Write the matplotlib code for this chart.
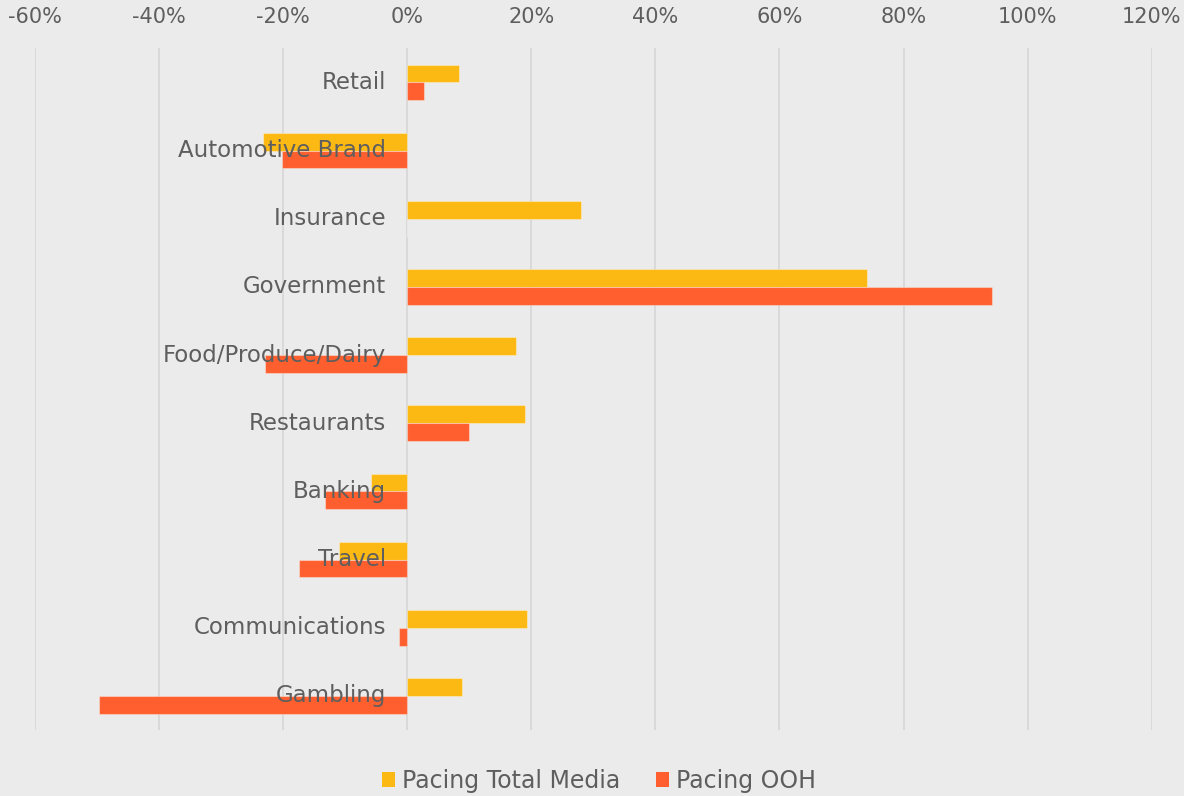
import matplotlib
matplotlib.use("Agg")
import matplotlib.pyplot as plt
from matplotlib.patches import Patch
import numpy as np

categories = ["Retail", "Automotive Brand", "Insurance", "Government",
              "Food/Produce/Dairy", "Restaurants", "Banking", "Travel",
              "Communications", "Gambling"]
total_media = [0.083, -0.232, 0.280, 0.741, 0.175, 0.190, -0.058, -0.109, 0.193, 0.088]
ooh = [0.027, -0.202, 0.0, 0.943, -0.229, 0.099, -0.132, -0.175, -0.013, -0.496]
series_names = ["Pacing Total Media", "Pacing OOH"]
x_ticks = [-0.6, -0.4, -0.2, 0.0, 0.2, 0.4, 0.6, 0.8, 1.0, 1.2]

BG = "#EAEBEA"
YELLOW = "#FDB913"
ORANGE = "#FF5F2E"
TEXT = "#5E5E5E"
GRID = "#D8D8D8"

plt.rcParams["font.family"] = ["DejaVu Sans"]

fig = plt.figure(figsize=(11.84, 7.96), dpi=100, facecolor=BG)
ax = fig.add_axes([34.8 / 1184, 1 - 730 / 796, (1151.7 - 34.8) / 1184, (730 - 48.3) / 796])
ax.set_facecolor(BG)

y = np.arange(len(categories))
h = 0.261
ax.barh(y - h / 2, total_media, height=h, color=YELLOW,
        edgecolor=(1, 1, 1, 0.35), linewidth=0.8, zorder=2)
ax.barh(y + h / 2, ooh, height=h, color=ORANGE,
        edgecolor=(1, 1, 1, 0.35), linewidth=0.8, zorder=2)

ax.set_xlim(-0.6, 1.2)
ax.set_ylim(len(categories) - 0.5, -0.5)

ax.xaxis.tick_top()
ax.set_xticks(x_ticks)
ax.set_xticklabels([f"{int(round(v * 100))}%" for v in x_ticks])
ax.tick_params(axis="x", length=0, pad=15, labelsize=15, labelcolor=TEXT)
ax.set_yticks([])
ax.grid(axis="x", color=GRID, linewidth=1.3)
ax.set_axisbelow(True)
for s in ax.spines.values():
    s.set_visible(False)

# category names sit just left of the zero line, on top of the bars
for yi, name in zip(y, categories):
    ax.text(-0.034, yi, name, ha="right", va="center", fontsize=16.5,
            color=TEXT, zorder=5)

handles = [Patch(facecolor=YELLOW, edgecolor="none"),
           Patch(facecolor=ORANGE, edgecolor="none")]
fig.legend(handles, series_names, loc="center", bbox_to_anchor=(0.506, 0.019),
           ncol=2, frameon=False, fontsize=17, labelcolor=TEXT,
           handlelength=0.55, handleheight=0.55, handletextpad=0.3,
           columnspacing=1.5)

fig.savefig("out.png", dpi=100, facecolor=BG)
